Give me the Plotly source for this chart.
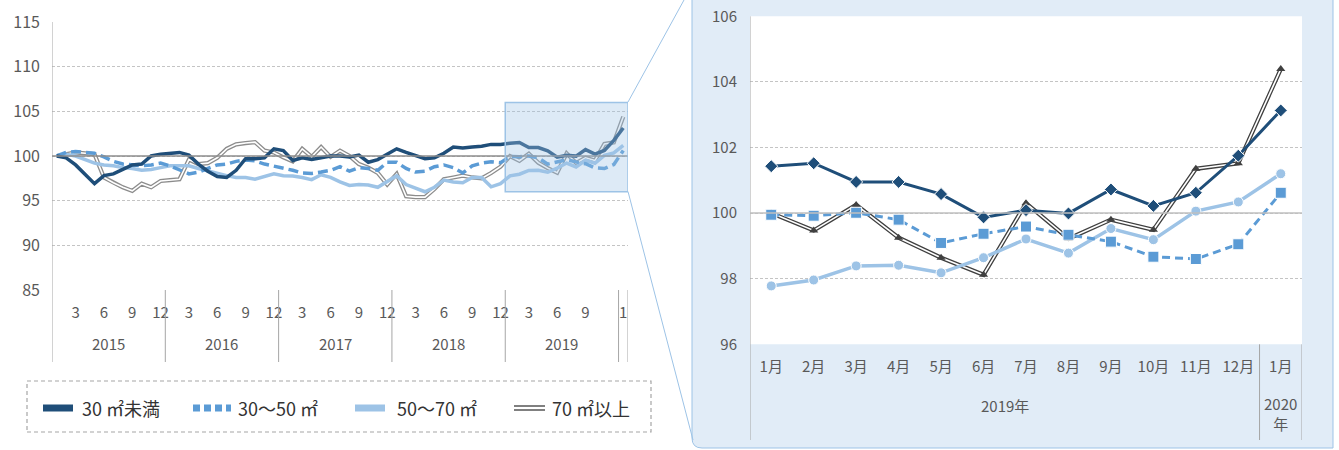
import plotly.graph_objects as go

W, H = 1339, 450


def px(x):
    return x / W


def py(y):
    return 1 - y / H


# ---------------- data ----------------
years = [2015] * 12 + [2016] * 12 + [2017] * 12 + [2018] * 12 + [2019] * 12 + [2020]
months = list(range(1, 13)) * 5 + [1]
periods = [f"{y}-{m:02d}" for y, m in zip(years, months)]

names = ["30 ㎡未満", "30～50 ㎡", "50～70 ㎡", "70 ㎡以上"]

under30 = [100.0, 99.8, 99.0, 98.0, 96.9, 97.8, 98.0, 98.5, 99.0, 99.1, 100.0, 100.2,
           100.3, 100.4, 100.1, 99.1, 98.3, 97.7, 97.6, 98.4, 99.7, 99.7, 99.8, 100.8,
           100.6, 99.5, 99.8, 99.6, 99.8, 100.0, 100.0, 99.9, 100.1, 99.3, 99.6, 100.2,
           100.8, 100.4, 100.1, 99.7, 99.8, 100.3, 101.0, 100.9, 101.0, 101.1, 101.3, 101.3,
           101.43, 101.52, 100.95, 100.95, 100.58, 99.87, 100.09, 99.99, 100.72, 100.22, 100.62, 101.75,
           103.13]
s30_50 = [100.0, 100.4, 100.5, 100.4, 100.3, 99.9, 99.4, 99.1, 99.0, 98.9, 99.0, 99.2,
          98.9, 98.4, 98.0, 98.2, 98.6, 99.0, 99.1, 99.4, 99.55, 99.45, 99.1, 98.9,
          98.7, 98.4, 98.1, 98.05, 98.2, 98.4, 98.8, 98.3, 98.7, 98.6, 98.4, 99.3,
          99.3, 98.6, 98.2, 98.3, 98.8, 99.0, 98.7, 98.1, 98.9, 99.2, 99.35, 99.25,
          99.95, 99.92, 100.01, 99.80, 99.09, 99.37, 99.59, 99.34, 99.13, 98.67, 98.60, 99.05,
          100.62]
s50_70 = [100.0, 100.2, 100.0, 99.6, 99.2, 99.0, 98.9, 98.7, 98.6, 98.4, 98.5, 98.7,
          98.9, 98.9, 98.9, 98.6, 98.3, 98.1, 97.8, 97.6, 97.6, 97.4, 97.7, 98.0,
          97.8, 97.75, 97.6, 97.35, 97.9, 97.6, 97.1, 96.7, 96.8, 96.75, 96.5, 97.1,
          97.8, 96.8, 96.4, 96.0, 96.5, 97.3, 97.1, 97.0, 97.6, 97.6, 96.55, 96.9,
          97.78, 97.96, 98.39, 98.41, 98.18, 98.64, 99.21, 98.78, 99.53, 99.19, 100.06, 100.34,
          101.20]
over70 = [100.0, 100.2, 100.4, 100.3, 100.2, 97.6, 97.0, 96.5, 96.1, 96.9, 96.5, 97.2,
          97.3, 97.4, 99.6, 99.1, 99.2, 99.8, 100.8, 101.3, 101.45, 101.55, 100.6, 100.4,
          99.85, 99.4, 100.8, 99.9, 101.0, 99.9, 100.6, 100.0, 99.1, 98.7, 98.1, 96.8,
          98.0, 95.5, 95.4, 95.4, 96.3, 97.4, 97.6, 97.8, 97.6, 97.5, 98.1, 98.8,
          100.0, 99.47, 100.25, 99.25, 98.64, 98.12, 100.30, 99.22, 99.80, 99.49, 101.35, 101.52,
          104.39]

left_ticks_months = [3, 6, 9, 12]
detail_n = 13  # Jan 2019 - Jan 2020

colors = ["#1f4e79", "#5b9bd5", "#9dc3e6", "#808080"]
FONT = "Noto Sans CJK JP"
TXT = "#595959"

fig = go.Figure()

# ---------------- left (overview) ----------------
fig.add_trace(go.Scatter(x=periods, y=over70, mode="lines", name=names[3],
                         line=dict(color="#8c8c8c", width=4.2), xaxis="x", yaxis="y"))
fig.add_trace(go.Scatter(x=periods, y=over70, mode="lines", showlegend=False,
                         line=dict(color="white", width=1.6), xaxis="x", yaxis="y"))
fig.add_trace(go.Scatter(x=periods, y=s50_70, mode="lines", name=names[2],
                         line=dict(color=colors[2], width=3.5), xaxis="x", yaxis="y"))
fig.add_trace(go.Scatter(x=periods, y=s30_50, mode="lines", name=names[1],
                         line=dict(color=colors[1], width=3.5, dash="10px,5px"), xaxis="x", yaxis="y"))
fig.add_trace(go.Scatter(x=periods, y=under30, mode="lines", name=names[0],
                         line=dict(color=colors[0], width=3.5), xaxis="x", yaxis="y"))

# ---------------- right (detail) ----------------
dp = periods[-detail_n:]
d_labels = [f"{m}月" for m in months[-detail_n:]]
fig.add_trace(go.Scatter(x=dp, y=over70[-detail_n:], mode="lines", showlegend=False,
                         line=dict(color="#404040", width=4.2), xaxis="x2", yaxis="y2"))
fig.add_trace(go.Scatter(x=dp, y=over70[-detail_n:], mode="lines+markers", showlegend=False,
                         line=dict(color="white", width=1.6),
                         marker=dict(symbol="triangle-up", size=8, color="#404040"),
                         xaxis="x2", yaxis="y2"))
fig.add_trace(go.Scatter(x=dp, y=s50_70[-detail_n:], mode="lines+markers", showlegend=False,
                         line=dict(color=colors[2], width=3.5),
                         marker=dict(symbol="circle", size=10, color=colors[2],
                                     line=dict(color="white", width=1)),
                         xaxis="x2", yaxis="y2"))
fig.add_trace(go.Scatter(x=dp, y=s30_50[-detail_n:], mode="lines+markers", showlegend=False,
                         line=dict(color=colors[1], width=3, dash="8px,5px"),
                         marker=dict(symbol="square", size=11, color=colors[1],
                                     line=dict(color="white", width=1)),
                         xaxis="x2", yaxis="y2"))
fig.add_trace(go.Scatter(x=dp, y=under30[-detail_n:], mode="lines+markers", showlegend=False,
                         line=dict(color=colors[0], width=3),
                         marker=dict(symbol="diamond", size=10, color=colors[0],
                                     line=dict(color="white", width=1)),
                         xaxis="x2", yaxis="y2"))

# ---------------- axes ----------------
# month labels 3/6/9/12, plus the final month; a label too close to the final one is skipped
n = len(periods)
lt_vals, lt_text = [], []
for i, (p, m) in enumerate(zip(periods, months)):
    if i == n - 1 or (m in left_ticks_months and i < n - 2):
        lt_vals.append(p)
        lt_text.append(str(m))

tickfont = dict(family=FONT, size=15, color=TXT)
common = dict(zeroline=False, showline=False, ticks="", automargin=False)
fig.update_layout(
    width=W, height=H, margin=dict(l=0, r=0, t=0, b=0, pad=0, autoexpand=False),
    paper_bgcolor="white", plot_bgcolor="rgba(0,0,0,0)",
    showlegend=False, font=dict(family=FONT, color=TXT),
    xaxis=dict(domain=[px(52), px(628)], anchor="y", type="category",
               categoryorder="array", categoryarray=periods, range=[-0.5, n - 0.5],
               tickmode="array", tickvals=lt_vals, ticktext=lt_text, tickfont=tickfont,
               tickangle=0, showgrid=False, ticklabelstandoff=12, **common),
    yaxis=dict(domain=[py(290), py(22)], anchor="x", range=[85, 115],
               tickvals=[85, 90, 95, 100, 105, 110, 115], tickfont=dict(family=FONT, size=16, color=TXT),
               showgrid=True, gridcolor="#c4c4c4", griddash="3px,2px", gridwidth=1,
               ticklabelstandoff=11, **common),
    xaxis2=dict(domain=[px(750), px(1302)], anchor="y2", type="category",
                categoryorder="array", categoryarray=dp, range=[-0.5, detail_n - 0.5],
                tickmode="array", tickvals=dp, ticktext=d_labels, tickfont=tickfont,
                tickangle=0, showgrid=False, ticklabelstandoff=12, **common),
    yaxis2=dict(domain=[py(344.3), py(16.3)], anchor="x2", range=[96, 106], dtick=2,
                tickfont=tickfont, showgrid=True, gridcolor="#c4c4c4", griddash="3px,2px",
                gridwidth=1, ticklabelstandoff=12, **common),
)

shapes = []
# detail panel background
x0p, x1p, ybp = px(692), px(1333), py(448)
rx, ry = 10 / W, 10 / H
shapes.append(dict(type="path", xref="paper", yref="paper", layer="below",
                   path=f"M{x0p},1.05 L{x0p},{ybp + ry} Q{x0p},{ybp} {x0p + rx},{ybp} "
                        f"L{x1p},{ybp} L{x1p},1.05 Z",
                   fillcolor="#e1ecf7", line=dict(color="#9dc3e6", width=1)))
shapes.append(dict(type="rect", xref="paper", yref="paper", layer="below",
                   x0=px(750), x1=px(1302), y0=py(344.3), y1=py(16.3),
                   fillcolor="white", line=dict(width=0)))

# left axis line and year separators
sep_col = "#a6a6a6"
shapes.append(dict(type="line", xref="x", yref="paper", x0=-0.5, x1=-0.5, y0=py(22), y1=py(362),
                   line=dict(color=sep_col, width=1)))
bounds = [i - 0.5 for i in range(1, len(years)) if years[i] != years[i - 1]] + [len(years) - 0.5]
for b in bounds:
    shapes.append(dict(type="line", xref="x", yref="paper", x0=b, x1=b, y0=py(290), y1=py(362),
                       line=dict(color=sep_col, width=1)))
shapes.append(dict(type="line", xref="x", yref="y", x0=-0.5, x1=n - 0.5, y0=100, y1=100,
                   line=dict(color="#8c8c8c", width=1.5)))

# right axis line and separators
shapes.append(dict(type="line", xref="x2", yref="paper", x0=-0.5, x1=-0.5, y0=py(16.3), y1=py(440),
                   line=dict(color=sep_col, width=1)))
for b in [detail_n - 1.5, detail_n - 0.5]:
    shapes.append(dict(type="line", xref="x2", yref="paper", x0=b, x1=b, y0=py(344.3), y1=py(440),
                       line=dict(color=sep_col, width=1)))
shapes.append(dict(type="line", xref="x2", yref="y2", x0=-0.5, x1=detail_n - 0.5, y0=100, y1=100,
                   line=dict(color="#bfbfbf", width=1.5)))

# highlight box on overview
shapes.append(dict(type="rect", xref="x", yref="y", layer="above",
                   x0=n - detail_n - 0.5, x1=n - 0.5, y0=96, y1=106,
                   fillcolor="rgba(157,195,230,0.35)", line=dict(color="#9dc3e6", width=1.5)))
# connectors
shapes.append(dict(type="line", xref="paper", yref="paper", x0=px(628), y0=py(102), x1=px(684), y1=py(0),
                   line=dict(color="#9dc3e6", width=1)))
shapes.append(dict(type="line", xref="paper", yref="paper", x0=px(628), y0=py(191.5), x1=px(693), y1=py(440),
                   line=dict(color="#9dc3e6", width=1)))

# legend box
shapes.append(dict(type="rect", xref="paper", yref="paper", x0=px(27), x1=px(651), y0=py(432), y1=py(381),
                   line=dict(color="#a6a6a6", width=1.2, dash="4px,3px")))
ly = py(408)
shapes.append(dict(type="line", xref="paper", yref="paper", x0=px(43), x1=px(73), y0=ly, y1=ly,
                   line=dict(color=colors[0], width=7)))
shapes.append(dict(type="line", xref="paper", yref="paper", x0=px(193), x1=px(231), y0=ly, y1=ly,
                   line=dict(color=colors[1], width=7, dash="7px,4px")))
shapes.append(dict(type="line", xref="paper", yref="paper", x0=px(355), x1=px(385), y0=ly, y1=ly,
                   line=dict(color=colors[2], width=7)))
shapes.append(dict(type="line", xref="paper", yref="paper", x0=px(514), x1=px(545), y0=ly, y1=ly,
                   line=dict(color="#808080", width=6)))
shapes.append(dict(type="line", xref="paper", yref="paper", x0=px(514), x1=px(545), y0=ly, y1=ly,
                   line=dict(color="white", width=2)))

annotations = []
lfont = dict(family=FONT, size=18, color="#333333")
for name, xx in zip(names, [80, 236, 395, 550]):
    annotations.append(dict(text=name, xref="paper", yref="paper", x=px(xx), y=ly,
                            xanchor="left", yanchor="middle", showarrow=False, font=lfont))

# year group labels (overview)
for yv in sorted(set(years)):
    idx = [i for i, y in enumerate(years) if y == yv]
    if len(idx) < 12:
        continue
    annotations.append(dict(text=str(yv), xref="x", yref="paper", x=(idx[0] + idx[-1]) / 2, y=py(343),
                            showarrow=False, font=tickfont, yanchor="middle"))
# year group labels (detail)
dyears = years[-detail_n:]
for yv in sorted(set(dyears)):
    idx = [i for i, y in enumerate(dyears) if y == yv]
    if len(idx) > 1:
        annotations.append(dict(text=f"{yv}年", xref="x2", yref="paper", x=(idx[0] + idx[-1]) / 2,
                                y=py(405), showarrow=False, font=tickfont, yanchor="middle"))
    else:
        annotations.append(dict(text=f"{yv}<br>年", xref="x2", yref="paper", x=idx[0],
                                y=py(413), showarrow=False, font=tickfont, yanchor="middle"))

fig.update_layout(shapes=shapes, annotations=annotations)

fig.write_html("out.html", config={"displayModeBar": False},
               post_script="document.body.style.margin='0';document.body.style.overflow='hidden';")
